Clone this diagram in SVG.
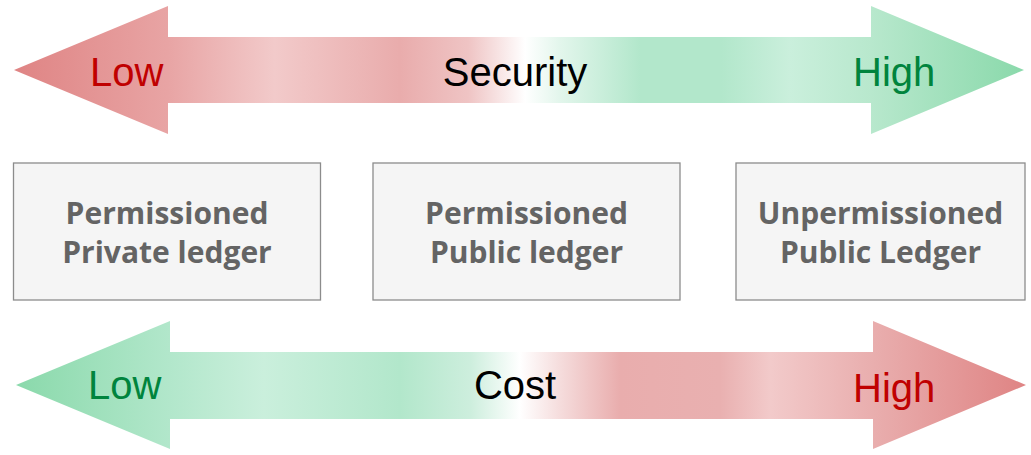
<svg xmlns="http://www.w3.org/2000/svg" width="1031" height="455" viewBox="0 0 1031 455">
<style>
.box{fill:#f5f5f5;stroke:#8c8c8c;stroke-width:1.3}
.bt{font-family:"Open Sans","Liberation Sans",sans-serif;font-weight:700;font-size:30px;fill:#646464;text-anchor:middle}
.lab{font-family:"Liberation Sans",Arial,sans-serif;font-size:40px}
.red{fill:#c00000}
.grn{fill:#00843d}
.blk{fill:#000000;text-anchor:middle}
</style>
<defs>
<linearGradient id="gTop" gradientUnits="userSpaceOnUse" x1="14" y1="0" x2="1024" y2="0">
<stop offset="0" stop-color="#df8484"/>
<stop offset="0.152" stop-color="#e8a4a4"/>
<stop offset="0.258" stop-color="#f2caca"/>
<stop offset="0.382" stop-color="#e9acac"/>
<stop offset="0.45" stop-color="#efc4c4"/>
<stop offset="0.506" stop-color="#ffffff"/>
<stop offset="0.54" stop-color="#e3f6ec"/>
<stop offset="0.62" stop-color="#b2e7cb"/>
<stop offset="0.70" stop-color="#b2e7cb"/>
<stop offset="0.768" stop-color="#caefdc"/>
<stop offset="0.848" stop-color="#b8e8cd"/>
<stop offset="1" stop-color="#8ad9ab"/>
</linearGradient>
<linearGradient id="gBot" gradientUnits="userSpaceOnUse" x1="16" y1="0" x2="1026" y2="0">
<stop offset="0" stop-color="#8ad9ab"/>
<stop offset="0.152" stop-color="#b2e7cb"/>
<stop offset="0.245" stop-color="#caefdc"/>
<stop offset="0.38" stop-color="#b2e7cb"/>
<stop offset="0.45" stop-color="#cdeedd"/>
<stop offset="0.499" stop-color="#ffffff"/>
<stop offset="0.539" stop-color="#f5dcdc"/>
<stop offset="0.598" stop-color="#e9adad"/>
<stop offset="0.697" stop-color="#e9b0b0"/>
<stop offset="0.747" stop-color="#f2caca"/>
<stop offset="0.848" stop-color="#e9aeae"/>
<stop offset="1" stop-color="#df8484"/>
</linearGradient>
</defs>
<g id="connectors">
<g id="security-arrow">
<polygon points="14,70 168,6 168,37 871,37 871,6 1024,70 871,134 871,103 168,103 168,134" fill="url(#gTop)"/>
<text class="lab red" x="90" y="86">Low</text>
<text class="lab blk" x="515" y="86">Security</text>
<text class="lab grn" x="853" y="86">High</text>
</g>
<g id="cost-arrow">
<polygon points="16,385 170,321 170,352 873,352 873,321 1026,385 873,449 873,419 170,419 170,449" fill="url(#gBot)"/>
<text class="lab grn" x="88" y="399">Low</text>
<text class="lab blk" x="515" y="399">Cost</text>
<text class="lab red" x="853" y="402">High</text>
</g>
</g>
<g id="node-private">
<rect class="box" x="13.5" y="163" width="307" height="137"/>
<text class="bt" x="167" y="224">Permissioned</text>
<text class="bt" x="167" y="263">Private ledger</text>
</g>
<g id="node-public">
<rect class="box" x="373" y="163" width="307" height="137"/>
<text class="bt" x="526.5" y="224">Permissioned</text>
<text class="bt" x="526.5" y="263">Public ledger</text>
</g>
<g id="node-unpermissioned">
<rect class="box" x="736" y="163" width="289" height="137"/>
<text class="bt" x="880.5" y="224">Unpermissioned</text>
<text class="bt" x="880.5" y="263">Public Ledger</text>
</g>
</svg>
